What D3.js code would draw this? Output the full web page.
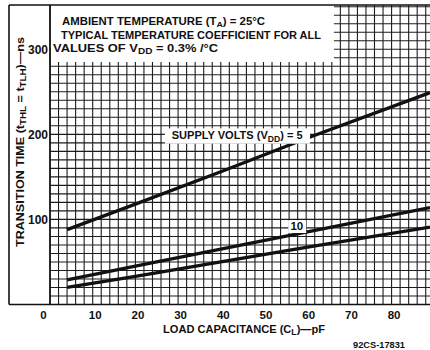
<!DOCTYPE html>
<html><head><meta charset="utf-8">
<script src="https://cdn.jsdelivr.net/npm/d3@7"></script>
<style>body{margin:0;background:#fff}svg{display:block}</style>
</head><body>
<script>
// Data
const loadCap = [4, 20, 40, 60, 89];            // C_L, pF
const tSupply5 = [88, 118, 156, 195, 249];      // ns, V_DD = 5
const tSupply10 = [29, 45, 65, 85, 114];        // ns, V_DD = 10
const tSupply15 = [20, 33, 50, 67, 91];         // ns, V_DD = 15
const xTicks = [0, 10, 20, 30, 40, 50, 60, 70, 80];
const yTicks = [100, 200, 300];
const xGrid = d3.range(0, 90, 2);
const yGrid = d3.range(0, 360, 10);

const W = 430, H = 350;
const svg = d3.select("body").append("svg").attr("width", W).attr("height", H)
  .style("font-family", "'Liberation Sans', Arial, sans-serif").style("font-weight", "bold");

const x = d3.scaleLinear().domain([0, 89]).range([50, 430]);
const y = d3.scaleLinear().domain([0, 352]).range([304.5, 5]);
const ink = "#111";

// grid
const grid = svg.append("g").attr("stroke", "#1c1c1c").attr("stroke-width", 1.1);
grid.selectAll("line.v").data(xGrid).join("line").attr("class", "v")
  .attr("x1", d => x(d)).attr("x2", d => x(d)).attr("y1", y(352)).attr("y2", y(0));
grid.selectAll("line.h").data(yGrid).join("line").attr("class", "h")
  .attr("x1", x(0)).attr("x2", x(89)).attr("y1", d => y(d)).attr("y2", d => y(d));

// annotation box (white)
svg.append("rect").attr("x", x(0) + 1).attr("y", y(352)).attr("width", x(66.5) - x(0) - 1)
  .attr("height", y(285) - y(352)).attr("fill", "#fff");

// frame
const frame = svg.append("g").attr("stroke", ink).attr("stroke-width", 1.6).attr("fill", "none");
frame.append("line").attr("x1", 9).attr("x2", W).attr("y1", y(352)).attr("y2", y(352));
frame.append("line").attr("x1", 9).attr("x2", 9).attr("y1", y(352)).attr("y2", y(0));
frame.append("line").attr("x1", 9).attr("x2", W).attr("y1", y(0)).attr("y2", y(0));
frame.append("line").attr("x1", x(0)).attr("x2", x(0)).attr("y1", y(352)).attr("y2", y(0));

// curves
const line = d3.line().x((d, i) => x(loadCap[i])).y(d => y(d));
[tSupply5, tSupply10, tSupply15].forEach(s => {
  svg.append("path").attr("d", line(s)).attr("fill", "none")
    .attr("stroke", ink).attr("stroke-width", 3.3);
});

// text with subscripts
function subText(g, parts, size) {
  const t = g.append("text").attr("fill", ink).attr("font-size", size);
  const shift = size * 0.22;
  let pending = 0;
  parts.forEach(p => {
    const ts = t.append("tspan").text(p.t);
    if (p.sub) {
      ts.attr("font-size", size * 0.78).attr("dy", pending + shift);
      pending = -shift;
    } else {
      if (pending) ts.attr("dy", pending);
      pending = 0;
    }
  });
  return t;
}

// curve labels
svg.append("rect").attr("x", x(26.9)).attr("y", y(207)).attr("width", x(60.9) - x(26.9))
  .attr("height", y(189) - y(207)).attr("fill", "#fff");
subText(svg, [{t: "SUPPLY VOLTS (V"}, {t: "DD", sub: true}, {t: ") = 5"}], 11)
  .attr("x", x(28.5)).attr("y", y(194)).attr("textLength", 131).attr("lengthAdjust", "spacingAndGlyphs");
svg.append("rect").attr("x", x(55.8)).attr("y", y(99)).attr("width", x(60) - x(55.8))
  .attr("height", y(84) - y(99)).attr("fill", "#fff");
svg.append("text").attr("x", x(57.8)).attr("y", y(87.5)).attr("text-anchor", "middle")
  .attr("font-size", 11.5).attr("fill", ink).text("10");

// annotation text
subText(svg, [{t: "AMBIENT TEMPERATURE (T"}, {t: "A", sub: true}, {t: ") = 25°C"}], 10)
  .attr("x", 62).attr("y", 25).attr("textLength", 203).attr("lengthAdjust", "spacingAndGlyphs");
subText(svg, [{t: "TYPICAL TEMPERATURE COEFFICIENT FOR ALL"}], 10.5)
  .attr("x", 61).attr("y", 38.5).attr("textLength", 260).attr("lengthAdjust", "spacingAndGlyphs");
subText(svg, [{t: "VALUES OF V"}, {t: "DD", sub: true}, {t: " = 0.3% /°C"}], 10.5)
  .attr("x", 53).attr("y", 52).attr("textLength", 165).attr("lengthAdjust", "spacingAndGlyphs");

// axes
const xAxis = svg.append("g").attr("transform", `translate(0,${y(0)})`)
  .call(d3.axisBottom(x).tickValues(xTicks).tickSize(0).tickPadding(6));
xAxis.select(".domain").remove();
xAxis.selectAll("text").attr("font-size", 11.5).attr("font-family", null).attr("fill", ink)
  .attr("dx", d => d === 0 ? -7 : 2);
const yAxis = svg.append("g").attr("transform", `translate(${x(0)},0)`)
  .call(d3.axisLeft(y).tickValues(yTicks).tickSize(0).tickPadding(2));
yAxis.select(".domain").remove();
yAxis.selectAll("text").attr("font-size", 12).attr("font-family", null).attr("fill", ink);

// axis titles
const yt = svg.append("g").attr("transform", "translate(24,142) rotate(-90)");
subText(yt, [{t: "TRANSITION TIME (t"}, {t: "THL", sub: true}, {t: " = t"}, {t: "TLH", sub: true}, {t: ")—ns"}], 11)
  .attr("text-anchor", "middle").attr("textLength", 210).attr("lengthAdjust", "spacingAndGlyphs");
subText(svg, [{t: "LOAD CAPACITANCE (C"}, {t: "L", sub: true}, {t: ")—pF"}], 11)
  .attr("x", 163).attr("y", 333).attr("textLength", 162).attr("lengthAdjust", "spacingAndGlyphs");
svg.append("text").attr("x", 353).attr("y", 348).attr("font-size", 9).attr("fill", ink)
  .attr("textLength", 52).attr("lengthAdjust", "spacingAndGlyphs").text("92CS-17831");
</script>
</body></html>
